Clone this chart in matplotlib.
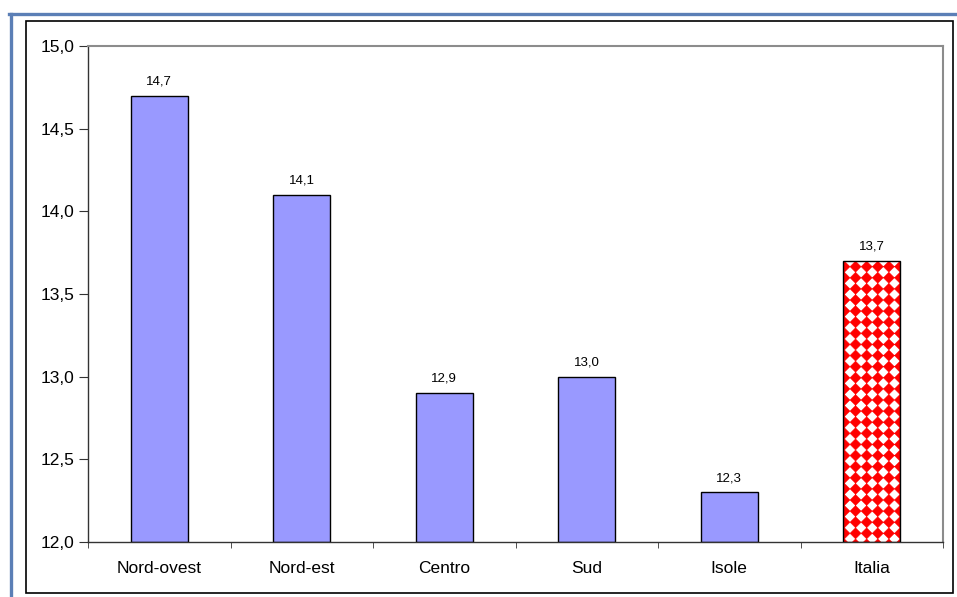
import warnings
warnings.filterwarnings("ignore")
import numpy as np
import matplotlib
matplotlib.use("Agg")
import matplotlib.pyplot as plt
import matplotlib.hatch as mhatch
from matplotlib.path import Path
from matplotlib.patches import Rectangle
from matplotlib.lines import Line2D
from matplotlib.ticker import FuncFormatter, MultipleLocator

categories = ["Nord-ovest", "Nord-est", "Centro", "Sud", "Isole", "Italia"]
values = [14.7, 14.1, 12.9, 13.0, 12.3, 13.7]
y_min, y_max, y_step = 12.0, 15.0, 0.5


class DiamondHatch(mhatch.HatchPatternBase):
    """Square grid of filled diamonds (rotated checkerboard)."""
    def __init__(self, hatch, density):
        k = hatch.count('d')
        self.n = 9 * k
        self.num_vertices = 5 * (self.n + 1) ** 2 if k else 0

    def set_vertices_and_codes(self, vertices, codes):
        n = self.n
        r = 0.5 / n
        shape = np.array([[0, r], [r, 0], [0, -r], [-r, 0], [0, r]])
        cc = [Path.MOVETO, Path.LINETO, Path.LINETO, Path.LINETO, Path.CLOSEPOLY]
        idx = 0
        for i in range(n + 1):
            for j in range(n + 1):
                vertices[idx:idx + 5] = shape + [i / n, j / n]
                codes[idx:idx + 5] = cc
                idx += 5


mhatch._hatch_types.append(DiamondHatch)

plt.rcParams['font.family'] = ['Liberation Sans', 'DejaVu Sans']
plt.rcParams['hatch.linewidth'] = 0.3

W, H, DPI = 957, 597, 100
fig = plt.figure(figsize=(W / DPI, H / DPI), dpi=DPI)
fig.patch.set_facecolor('white')

# outer decorations (blue frame + black box)
fig.add_artist(Line2D([9 / W, 1], [1 - 14 / H, 1 - 14 / H], color='#5b7fb6', lw=2.4,
                      transform=fig.transFigure))
fig.add_artist(Line2D([10.5 / W, 10.5 / W], [0, 1 - 14 / H], color='#5b7fb6', lw=2.4,
                      transform=fig.transFigure))
fig.add_artist(Rectangle((26 / W, 1 - 593 / H), (953 - 26) / W, (593 - 21) / H,
                         transform=fig.transFigure, fill=False, edgecolor='black', lw=1.2))

ax = fig.add_axes([88 / W, 1 - 542 / H, (943 - 88) / W, (542 - 46) / H])

x = np.arange(len(categories))
bw = 0.4
for xi, v, c in zip(x, values, categories):
    if c == "Italia":
        ax.bar(xi, v - y_min, bw, bottom=y_min, facecolor='white', edgecolor='red',
               hatch='d', linewidth=0, zorder=2)
        ax.bar(xi, v - y_min, bw, bottom=y_min, facecolor='none', edgecolor='black',
               linewidth=1.0, zorder=3)
    else:
        ax.bar(xi, v - y_min, bw, bottom=y_min, color='#9999ff', edgecolor='black',
               linewidth=1.0, zorder=2)
    ax.annotate(f"{v:.1f}".replace('.', ','), (xi, v), xytext=(0, 6),
                textcoords='offset points', ha='center', va='bottom', fontsize=9.5)

ax.set_xlim(-0.5, len(categories) - 0.5)
ax.set_ylim(y_min, y_max)
ax.yaxis.set_major_locator(MultipleLocator(y_step))
ax.yaxis.set_major_formatter(FuncFormatter(lambda v, p: f"{v:.1f}".replace('.', ',')))
ax.set_xticks(x)
ax.set_xticklabels(categories, fontsize=12.5)
ax.tick_params(axis='x', length=0, pad=14)
ax.set_xticks(np.arange(len(categories) + 1) - 0.5, minor=True)
ax.tick_params(axis='x', which='minor', length=4.5, direction='out', color='#333333')
ax.tick_params(axis='y', length=6.5, direction='out', labelsize=12.5, pad=3.5, color='#333333')

for s in ['top', 'right']:
    ax.spines[s].set_color('#8c8c8c')
    ax.spines[s].set_linewidth(1.5)
for s in ['left', 'bottom']:
    ax.spines[s].set_color('#333333')
    ax.spines[s].set_linewidth(1.0)

fig.savefig('out.png', dpi=DPI)
